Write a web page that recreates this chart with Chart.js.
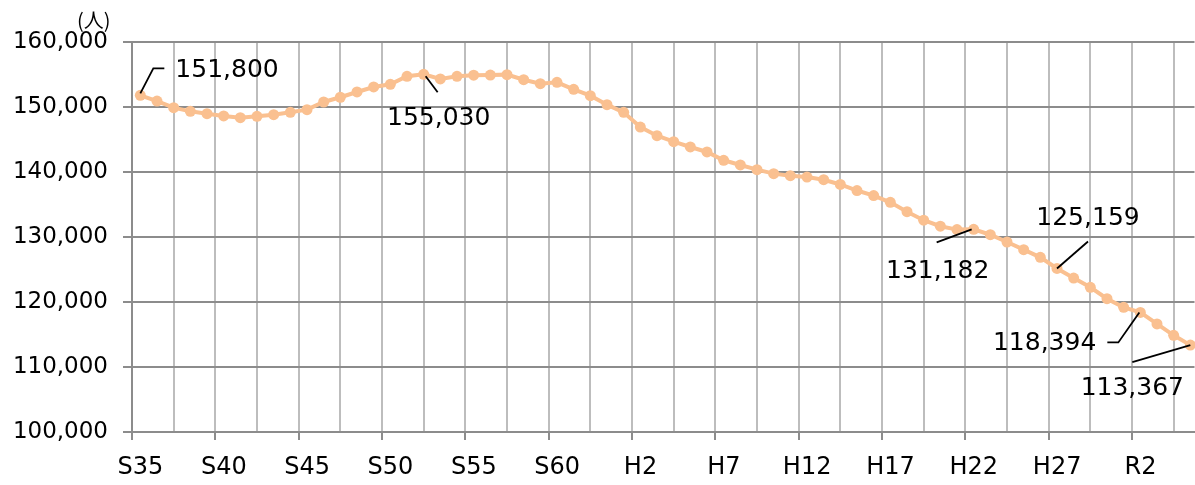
<!DOCTYPE html>
<html lang="ja">
<head>
<meta charset="UTF-8">
<title>人口の推移</title>
<script src="https://cdn.jsdelivr.net/npm/chart.js"></script>
<style>
  html, body { margin: 0; padding: 0; background: #fff; overflow: hidden; }
  .chart-box { position: relative; width: 1200px; height: 485px; }
  .unit { position: absolute; left: 77px; top: 5px; font: 20px "Noto Sans CJK JP", sans-serif; color: #000; }
</style>
</head>
<body>
<div class="chart-box">
  <canvas id="popChart"></canvas>
  <div class="unit">(人)</div>
</div>
<script>
// 年次 (S35〜R5)
const years = [
  'S35','S36','S37','S38','S39','S40','S41','S42','S43','S44',
  'S45','S46','S47','S48','S49','S50','S51','S52','S53','S54',
  'S55','S56','S57','S58','S59','S60','S61','S62','S63','H1',
  'H2','H3','H4','H5','H6','H7','H8','H9','H10','H11',
  'H12','H13','H14','H15','H16','H17','H18','H19','H20','H21',
  'H22','H23','H24','H25','H26','H27','H28','H29','H30','R1',
  'R2','R3','R4','R5'
];

// 人口 (人)
const population = [
  151800, 150920, 149900, 149330, 148970, 148620, 148360, 148560, 148820, 149180,
  149590, 150770, 151500, 152310, 153080, 153490, 154720, 155030, 154310, 154720,
  154900, 154920, 154980, 154200, 153590, 153800, 152720, 151740, 150360, 149180,
  146920, 145590, 144670, 143850, 143080, 141800, 141080, 140360, 139750, 139430,
  139220, 138810, 138080, 137150, 136370, 135340, 133890, 132590, 131660, 131140,
  131182, 130350, 129230, 128050, 126870, 125159, 123690, 122260, 120510, 119180,
  118394, 116620, 114870, 113367
];

// 軸ラベル
const tickYears = ['S35','S40','S45','S50','S55','S60','H2','H7','H12','H17','H22','H27','R2'];
const yTicks = [100000, 110000, 120000, 130000, 140000, 150000, 160000];

// 数値ラベル: 対象の年と、点からの引き出し線・文字の位置
const callouts = [
  { i: 0,  leader: [[0,-2],[13,-27],[24,-27]], tx: 35,  ty: -25, align: 'left' },
  { i: 17, leader: [[2,2],[14,18]],            tx: 15,  ty: 44,  align: 'center' },
  { i: 50, leader: [[-2,0],[-37,13]],          tx: -36, ty: 42,  align: 'center' },
  { i: 55, leader: [[0,0],[31,-27]],           tx: 31,  ty: -50, align: 'center' },
  { i: 60, leader: [[-1,0],[-22,30],[-33,30]], tx: -44, ty: 31,  align: 'right' },
  { i: 63, leader: [[0,0],[-58,17]],           tx: -58, ty: 43,  align: 'center' }
];

const FONT = '"DejaVu Sans", Verdana, sans-serif';

// 5年おきの目盛り (区間の境目) かどうか
function isMajor(v) {
  const k = (v + 0.5) / 5;
  return Math.abs(k - Math.round(k)) < 1e-6;
}

const calloutPlugin = {
  id: 'callouts',
  afterDatasetsDraw(chart) {
    const ctx = chart.ctx;
    const pts = chart.getDatasetMeta(0).data;
    ctx.save();
    ctx.strokeStyle = '#000';
    ctx.lineWidth = 1.8;
    ctx.fillStyle = '#000';
    ctx.font = '25px ' + FONT;
    ctx.textBaseline = 'middle';
    callouts.forEach(c => {
      const p = pts[c.i];
      ctx.beginPath();
      c.leader.forEach(([dx, dy], k) => {
        if (k === 0) ctx.moveTo(p.x + dx, p.y + dy);
        else ctx.lineTo(p.x + dx, p.y + dy);
      });
      ctx.stroke();
      ctx.textAlign = c.align;
      ctx.fillText(population[c.i].toLocaleString('en-US'), p.x + c.tx, p.y + c.ty);
    });
    ctx.restore();
  }
};

new Chart(document.getElementById('popChart'), {
  type: 'line',
  data: {
    datasets: [{
      label: '人口',
      data: population.map((v, i) => ({ x: i, y: v })),
      borderColor: '#fac090',
      backgroundColor: '#fac090',
      borderWidth: 4,
      pointRadius: 5.5,
      pointBorderWidth: 0,
      pointBackgroundColor: '#fac090',
      tension: 0,
      clip: false
    }]
  },
  options: {
    responsive: true,
    maintainAspectRatio: false,
    animation: false,
    layout: { padding: { top: 42, right: 0, bottom: 0, left: 0 } },
    plugins: {
      legend: { display: false },
      tooltip: { enabled: false }
    },
    scales: {
      x: {
        type: 'linear',
        min: -0.5,
        max: 63.25,
        afterBuildTicks: scale => {
          const t = [];
          for (let v = -0.5; v <= 63; v += 2.5) t.push({ value: v });
          scale.ticks = t;
        },
        afterFit: scale => { scale.height = 53; },
        grid: {
          color: '#bdbdbd',
          lineWidth: 2,
          tickLength: 8,
          tickColor: ctx => (ctx.tick && isMajor(ctx.tick.value)) ? '#8c8c8c' : 'rgba(0,0,0,0)'
        },
        border: { color: '#8c8c8c', width: 2 },
        ticks: {
          autoSkip: false,
          maxRotation: 0,
          padding: 13,
          labelOffset: 8.5,
          color: '#000',
          font: { family: FONT, size: 24 },
          callback: v => isMajor(v) ? (tickYears[Math.round((v + 0.5) / 5)] || '') : ''
        }
      },
      y: {
        min: yTicks[0],
        max: yTicks[yTicks.length - 1],
        afterBuildTicks: scale => { scale.ticks = yTicks.map(v => ({ value: v })); },
        afterFit: scale => { scale.width = 132; },
        grid: { color: '#8c8c8c', lineWidth: 2, tickLength: 9 },
        border: { color: '#8c8c8c', width: 2 },
        ticks: {
          padding: 15,
          color: '#000',
          font: { family: FONT, size: 23 },
          callback: v => v.toLocaleString('en-US')
        }
      }
    }
  },
  plugins: [calloutPlugin]
});
</script>
</body>
</html>
